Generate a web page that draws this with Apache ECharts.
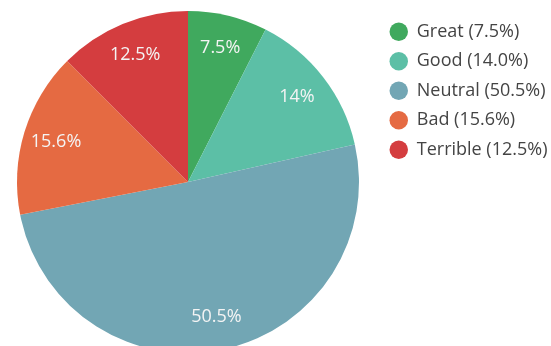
<!DOCTYPE html>
<html>
<head>
<meta charset="utf-8">
<script src="https://cdn.jsdelivr.net/npm/echarts@6/dist/echarts.min.js"></script>
<style>
html,body{margin:0;padding:0;background:#fff;}
#c{width:551px;height:346px;}
</style>
</head>
<body>
<div id="c"></div>
<script>
const categories = ['Great', 'Good', 'Neutral', 'Bad', 'Terrible'];
const values = [7.5, 14.0, 50.5, 15.6, 12.5];
const sliceLabels = ['7.5%', '14%', '50.5%', '15.6%', '12.5%'];
const legendLabels = ['Great (7.5%)', 'Good (14.0%)', 'Neutral (50.5%)', 'Bad (15.6%)', 'Terrible (12.5%)'];
const colors = ['#40a95e', '#5cbfa6', '#72a6b4', '#e56a42', '#d43d3f'];

const chart = echarts.init(document.getElementById('c'), null, {renderer: 'canvas'});
const font = '"Open Sans", sans-serif';
const mainData = categories.map((c, i) => ({name: c, value: values[i], itemStyle: {color: colors[i]}}));
const labelData = categories.map((c, i) => ({name: c, value: values[i]}));

chart.setOption({
  animation: false,
  legend: {
    orient: 'vertical',
    left: 389.5,
    top: 22.5,
    padding: 0,
    icon: 'circle',
    itemWidth: 26,
    itemHeight: 18.5,
    itemGap: 11,
    data: categories,
    formatter: function (name) { return legendLabels[categories.indexOf(name)]; },
    textStyle: {fontFamily: font, fontSize: 18, lineHeight: 18, color: '#444'}
  },
  series: [
    {
      type: 'pie',
      center: [188, 182],
      radius: [0, 171],
      startAngle: 90,
      clockwise: true,
      silent: true,
      label: {show: false},
      labelLine: {show: false},
      data: mainData
    },
    {
      type: 'pie',
      center: [188, 182],
      radius: [99, 171],
      startAngle: 90,
      clockwise: true,
      silent: true,
      itemStyle: {color: 'rgba(0,0,0,0)'},
      label: {
        show: true,
        position: 'inside',
        fontFamily: font,
        fontSize: 18,
        color: '#f4f4f4',
        formatter: function (p) { return sliceLabels[p.dataIndex]; }
      },
      labelLine: {show: false},
      data: labelData
    }
  ]
});
</script>
</body>
</html>
